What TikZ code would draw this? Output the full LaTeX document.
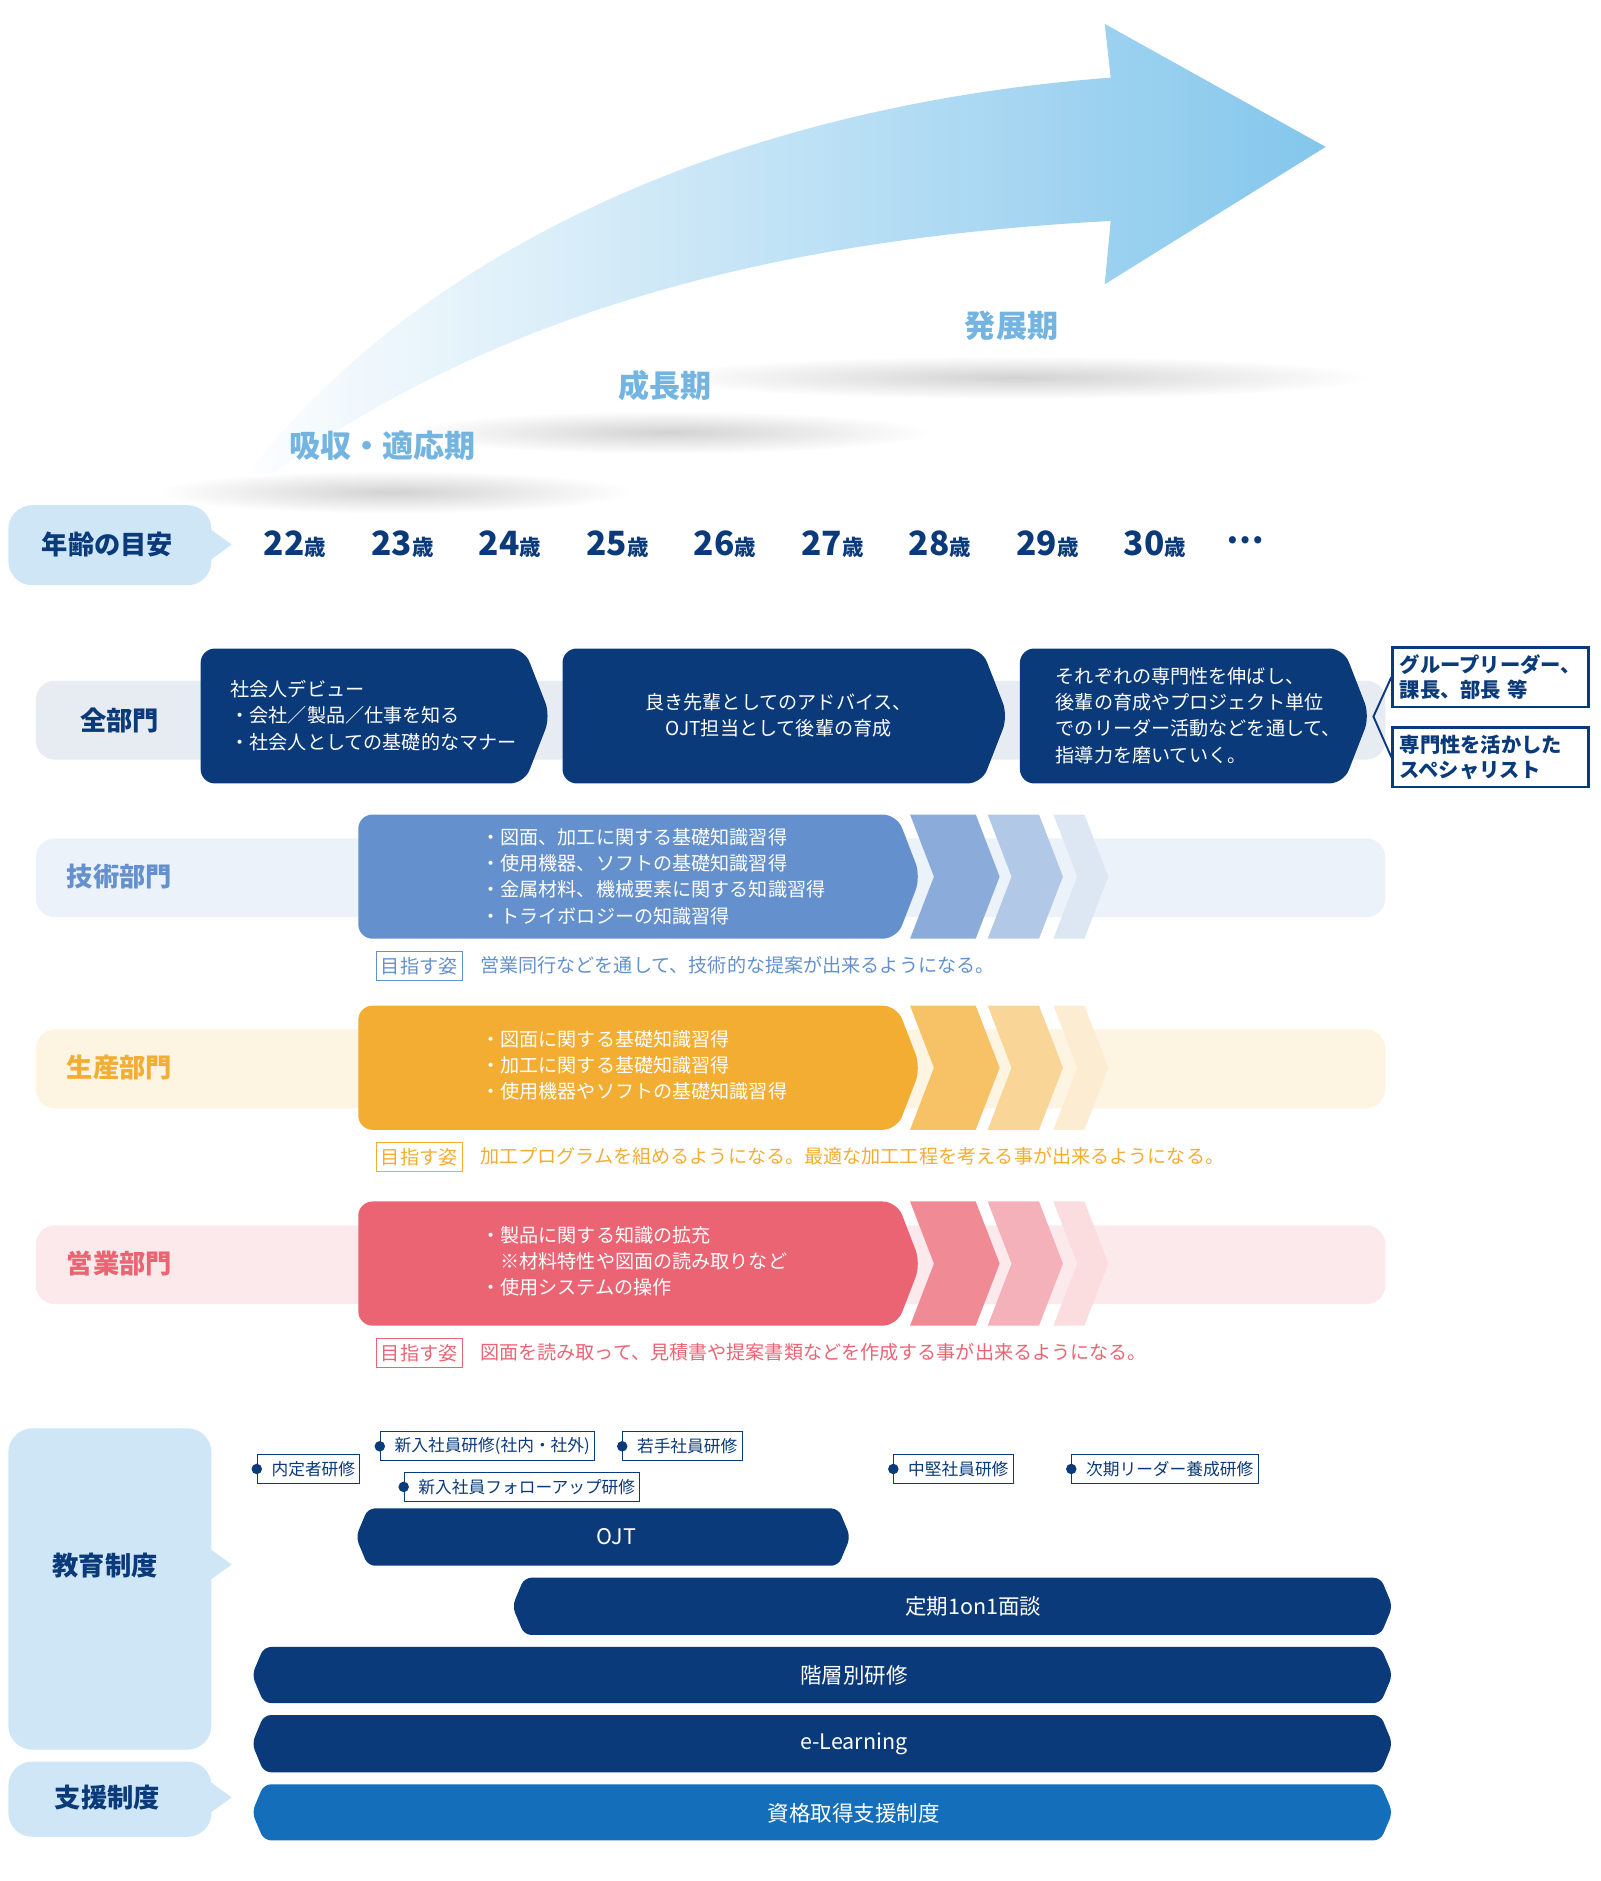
\documentclass[tikz,border=0pt]{standalone}
\usepackage{fontspec}
\setmainfont{Noto Sans CJK JP}
\newfontfamily\jpb{Noto Sans CJK JP}[BoldFont={Noto Sans CJK JP Bold}]
\usetikzlibrary{fadings,shapes.geometric}
\definecolor{navy}{RGB}{10,58,122}
\definecolor{lblue}{RGB}{206,230,246}
\definecolor{sky}{RGB}{125,195,235}
\definecolor{phase}{RGB}{115,180,225}
\definecolor{tech}{RGB}{100,145,205}
\definecolor{prod}{RGB}{243,173,50}
\definecolor{sales}{RGB}{235,100,115}
\definecolor{shien}{RGB}{20,110,185}
\tikzset{
 lbl/.style={font=\fontsize{11}{13}\selectfont\bfseries},
 bul/.style={font=\fontsize{8}{11}\selectfont, align=left, anchor=west, text=white},
 tag/.style={draw=navy, fill=white, font=\fontsize{7}{8}\selectfont, text=navy, inner sep=2pt, minimum height=12pt},
 bartxt/.style={font=\fontsize{9}{10}\selectfont, text=white},
 goal/.style={draw, font=\fontsize{8}{9}\selectfont, inner sep=2pt, minimum height=12pt},
}
\newcommand\chev[6]{% color x1 y1 x2 y2 d
 \fill[#1, rounded corners=6] (#2,#3) -- ({#4-#6},#3) -- (#4,{(#3+#5)/2}) -- ({#4-#6},#5) -- (#2,#5) -- cycle;}
\newcommand\notch[6]{%
 \fill[#1] (#2,#3) -- ({#4-#6},#3) -- (#4,{(#3+#5)/2}) -- ({#4-#6},#5) -- (#2,#5) -- ({#2+#6},{(#3+#5)/2}) -- cycle;}
\newcommand\hexbar[6]{%
 \fill[#1, rounded corners=3] ({#2+#6},#3) -- ({#4-#6},#3) -- (#4,{(#3+#5)/2}) -- ({#4-#6},#5) -- ({#2+#6},#5) -- (#2,{(#3+#5)/2}) -- cycle;}
\begin{document}
\begin{tikzpicture}[x=0.5pt,y=-0.5pt]
\useasboundingbox (0,0) rectangle (1340,1575);
% big arrow
\shade[left color=white, right color=sky, opacity=0.95]
 (190,425) .. controls (400,260) and (650,200) .. (930,185) -- (925,238) -- (1110,123) -- (925,20) -- (930,65)
 .. controls (600,90) and (330,220) .. (190,420) -- cycle;
% phase shadows
\foreach \x/\y/\w in {330/412/100, 560/362/110, 850/316/150}
 \shade[inner color=gray!35, outer color=white] (\x,\y) ellipse (\w pt and 9pt);
\node[lbl, text=phase, font=\fontsize{13}{15}\selectfont\bfseries] (p1) at (320,373) {吸収・適応期};
\node[lbl, text=phase, font=\fontsize{13}{15}\selectfont\bfseries] (p2) at (557,323) {成長期};
\node[lbl, text=phase, font=\fontsize{13}{15}\selectfont\bfseries] (p3) at (847,273) {発展期};
% age header
\fill[lblue, rounded corners=10] (7,423) rectangle (177,490);
\fill[lblue] (176,443) -- (194,456) -- (176,469) -- cycle;
\node[lbl, text=navy] (age) at (90,456) {年齢の目安};
\foreach \a [count=\i from 0] in {22,23,24,25,26,27,28,29,30}
 \node[text=navy] (a\a) at ({247+90*\i},456) {\fontsize{14}{16}\selectfont\bfseries \a\fontsize{9}{10}\selectfont 歳};
\node[text=navy, font=\fontsize{14}{16}\selectfont\bfseries] (dots) at (1043,452) {…};
% bands
\fill[navy!10, rounded corners=8] (30,570) rectangle (1160,636);
\fill[tech!12, rounded corners=8] (30,702) rectangle (1160,768);
\fill[prod!14, rounded corners=8] (30,862) rectangle (1160,928);
\fill[sales!14, rounded corners=8] (30,1026) rectangle (1160,1092);
% 全部門
\node[lbl, text=navy] (all) at (100,603) {全部門};
\chev{navy}{168}{543}{461}{656}{22}
\chev{navy}{471}{543}{844}{656}{22}
\chev{navy}{854}{543}{1147}{656}{22}
\node[bul, anchor=west] (t1) at (186,599) {社会人デビュー\\・会社／製品／仕事を知る\\・社会人としての基礎的なマナー};
\node[bul, anchor=center, align=center] (t2) at (652,599) {良き先輩としてのアドバイス、\\OJT担当として後輩の育成};
\node[bul, anchor=west] (t3) at (877,599) {それぞれの専門性を伸ばし、\\後輩の育成やプロジェクト単位\\でのリーダー活動などを通して、\\指導力を磨いていく。};
\node[draw=navy, line width=1pt, fill=white, text=navy, font=\fontsize{8.5}{10.5}\selectfont\bfseries, align=left, text width=76pt, minimum height=25pt, inner sep=3pt] (r1) at (1248,567) {グループリーダー、\\課長、部長 等};
\node[draw=navy, line width=1pt, fill=white, text=navy, font=\fontsize{8.5}{10.5}\selectfont\bfseries, align=left, text width=76pt, minimum height=25pt, inner sep=3pt] (r2) at (1248,634) {専門性を活かした\\スペシャリスト};
\coordinate (tip) at (1150,600);
\draw[navy, line width=0.8pt] (r1.west) -- (tip) -- (r2.west);
% department rows
\foreach \y/\c/\name/\ltxt in {682/tech/tech/技術部門, 842/prod/prod/生産部門, 1006/sales/sales/営業部門}{
 \chev{\c}{300}{\y}{771}{\y+104}{20}
 \notch{\c!75}{762}{\y}{837}{\y+104}{20}
 \notch{\c!50}{827}{\y}{890}{\y+104}{20}
 \notch{\c!22}{882}{\y}{928}{\y+104}{20}
 \node[lbl, text=\c] at (100,\y+52) {\ltxt};
}
\node[bul] (b1) at (396,734) {・図面、加工に関する基礎知識習得\\・使用機器、ソフトの基礎知識習得\\・金属材料、機械要素に関する知識習得\\・トライボロジーの知識習得};
\node[bul] (b2) at (396,892) {・図面に関する基礎知識習得\\・加工に関する基礎知識習得\\・使用機器やソフトの基礎知識習得};
\node[bul] (b3) at (396,1056) {・製品に関する知識の拡充\\　※材料特性や図面の読み取りなど\\・使用システムの操作};
\node[goal, draw=tech, text=tech] (g1) at (351,809) {目指す姿};
\node[anchor=west, text=tech, font=\fontsize{8}{9}\selectfont] (g1t) at (395,808) {営業同行などを通して、技術的な提案が出来るようになる。};
\node[goal, draw=prod, text=prod] (g2) at (351,969) {目指す姿};
\node[anchor=west, text=prod, font=\fontsize{8}{9}\selectfont] (g2t) at (395,968) {加工プログラムを組めるようになる。最適な加工工程を考える事が出来るようになる。};
\node[goal, draw=sales, text=sales] (g3) at (351,1133) {目指す姿};
\node[anchor=west, text=sales, font=\fontsize{8}{9}\selectfont] (g3t) at (395,1132) {図面を読み取って、見積書や提案書類などを作成する事が出来るようになる。};
% education
\fill[lblue, rounded corners=10] (7,1196) rectangle (177,1465);
\fill[lblue] (176,1297) -- (194,1310) -- (176,1323) -- cycle;
\node[lbl, text=navy] (edu) at (88,1311) {教育制度};
\fill[lblue, rounded corners=10] (7,1475) rectangle (177,1538);
\fill[lblue] (176,1492) -- (194,1505) -- (176,1518) -- cycle;
\node[lbl, text=navy] (sup) at (90,1505) {支援制度};
% tags
\foreach \x/\y/\t [count=\i] in {215/1230/内定者研修, 318/1211/新入社員研修(社内・社外), 521/1211/若手社員研修, 338/1245/新入社員フォローアップ研修, 748/1230/中堅社員研修, 897/1230/次期リーダー養成研修}{
 \node[tag, anchor=west] (tg\i) at (\x,\y) {\hspace{4pt}\t};
 \fill[navy] (tg\i.west) circle (2.2pt);
}
% bars
\hexbar{navy}{298}{1263}{712}{1311}{10}
\node[bartxt] (ojt) at (516,1287) {OJT};
\hexbar{navy}{429}{1321}{1166}{1369}{10}
\node[bartxt] (oneon) at (815,1345) {定期1on1面談};
\hexbar{navy}{211}{1379}{1166}{1426}{10}
\node[bartxt] (kaiso) at (715,1403) {階層別研修};
\hexbar{navy}{211}{1436}{1166}{1484}{10}
\node[bartxt] (el) at (715,1460) {e-Learning};
\hexbar{shien}{211}{1494}{1166}{1541}{10}
\node[bartxt] (shikaku) at (715,1518) {資格取得支援制度};
\end{tikzpicture}
\end{document}
